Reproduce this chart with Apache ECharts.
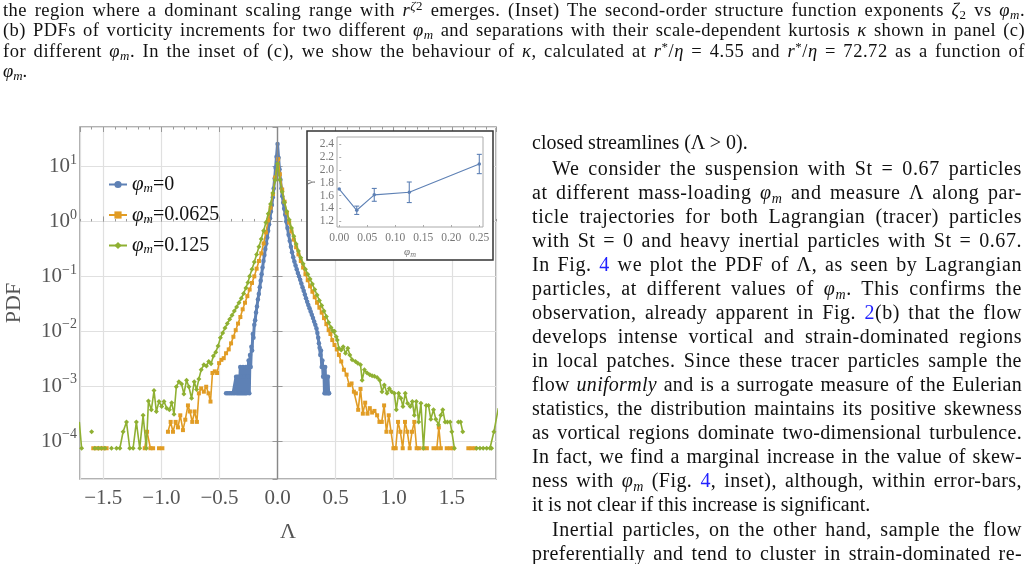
<!DOCTYPE html>
<html>
<head>
<meta charset="utf-8">
<script src="https://cdn.jsdelivr.net/npm/echarts@6/dist/echarts.min.js"></script>
<style>
body { margin: 0; background: #fff; }
#page { position: relative; width: 1030px; height: 564px; overflow: hidden; font-family: 'Liberation Serif', serif; color: #111; }
#chart { position: absolute; left: 0; top: 0; width: 1030px; height: 564px; }
.ln { position: absolute; white-space: nowrap; line-height: 1; }
.j { text-align: justify; text-align-last: justify; }
.cap { font-size: 18.5px; left: 3px; width: 1022px; }
.col { font-size: 20px; left: 532px; width: 490px; }
.ind { left: 552px; width: 470px; }
.ref { color: #2020ff; }
.s { font-size: 0.7em; font-style: italic; position: relative; top: 0.25em; }
.p { font-size: 0.7em; position: relative; top: -0.45em; }
</style>
</head>
<body>
<div id="page">
  <div id="chart"></div>

  <div class="ln cap j" style="top:1px">the region where a dominant scaling range with <i>r</i><span class="p"><i>ζ</i>2</span> emerges. (Inset) The second-order structure function exponents <i>ζ</i><span class="s" style="font-style:normal">2</span> vs <i>φ</i><span class="s">m</span>.</div>
  <div class="ln cap j" style="top:21px">(b) PDFs of vorticity increments for two different <i>φ</i><span class="s">m</span> and separations with their scale-dependent kurtosis <i>κ</i> shown in panel (c)</div>
  <div class="ln cap j" style="top:42px">for different <i>φ</i><span class="s">m</span>. In the inset of (c), we show the behaviour of <i>κ</i>, calculated at <i>r</i><span class="p">*</span>/<i>η</i> = 4.55 and <i>r</i><span class="p">*</span>/<i>η</i> = 72.72 as a function of</div>
  <div class="ln cap" style="top:62px"><i>φ</i><span class="s">m</span>.</div>

  <div class="ln col" style="top:132px">closed streamlines (Λ &gt; 0).</div>
  <div class="ln col ind j" style="top:158px">We consider the suspension with St = 0.67 particles</div>
  <div class="ln col j" style="top:182px">at different mass-loading <i>φ</i><span class="s">m</span> and measure Λ along par-</div>
  <div class="ln col j" style="top:206px">ticle trajectories for both Lagrangian (tracer) particles</div>
  <div class="ln col j" style="top:230px">with St = 0 and heavy inertial particles with St = 0.67.</div>
  <div class="ln col j" style="top:254px">In Fig. <span class="ref">4</span> we plot the PDF of Λ, as seen by Lagrangian</div>
  <div class="ln col j" style="top:278px">particles, at different values of <i>φ</i><span class="s">m</span>.  This confirms the</div>
  <div class="ln col j" style="top:302px">observation, already apparent in Fig. <span class="ref">2</span>(b) that the flow</div>
  <div class="ln col j" style="top:326px">develops intense vortical and strain-dominated regions</div>
  <div class="ln col j" style="top:350px">in local patches. Since these tracer particles sample the</div>
  <div class="ln col j" style="top:374px">flow <i>uniformly</i> and is a surrogate measure of the Eulerian</div>
  <div class="ln col j" style="top:398px">statistics, the distribution maintains its positive skewness</div>
  <div class="ln col j" style="top:422px">as vortical regions dominate two-dimensional turbulence.</div>
  <div class="ln col j" style="top:446px">In fact, we find a marginal increase in the value of skew-</div>
  <div class="ln col j" style="top:470px">ness with <i>φ</i><span class="s">m</span> (Fig. <span class="ref">4</span>, inset), although, within error-bars,</div>
  <div class="ln col" style="top:494px">it is not clear if this increase is significant.</div>
  <div class="ln col ind j" style="top:519px">Inertial particles, on the other hand, sample the flow</div>
  <div class="ln col j" style="top:543px">preferentially and tend to cluster in strain-dominated re-</div>
</div>

<script>
// values: [Λ, log10 PDF], null = empty bin
const phiLabels = ['0', '0.0625', '0.125']
const seriesColors = ['#5e81b5', '#e19c24', '#8fb032']

const pdfPhi0 = [
    [-0.443, -3.13], [-0.428, -3.13], [-0.413, -3.13], [-0.398, -3.13], [-0.383, -3.13], [-0.368, -3.13],
    [-0.357, -2.83], [-0.351, -3.13], [-0.345, -2.83], [-0.339, -3.13], [-0.333, -2.83], [-0.327, -3.13],
    [-0.321, -2.65], [-0.315, -3.13], [-0.309, -2.83], [-0.303, -3.13], [-0.297, -2.65], [-0.291, -3.13],
    [-0.285, -2.83], [-0.279, -3.13], [-0.273, -2.65], [-0.267, -3.13], [-0.261, -2.65], [-0.255, -2.83],
    [-0.249, -2.53], [-0.243, -3.13], [-0.237, -2.43], [-0.231, -2.65], [-0.225, -2.28], [-0.219, -2.35],
    [-0.213, -2.05], [-0.207, -2.12], [-0.200, -1.88], [-0.193, -1.80], [-0.185, -1.66], [-0.177, -1.55],
    [-0.169, -1.42], [-0.161, -1.32], [-0.153, -1.20], [-0.145, -1.08], [-0.137, -0.96], [-0.129, -0.84],
    [-0.121, -0.72], [-0.113, -0.61], [-0.105, -0.50], [-0.097, -0.40], [-0.089, -0.29], [-0.081, -0.17],
    [-0.073, -0.05], [-0.065, 0.06], [-0.057, 0.18], [-0.049, 0.30], [-0.041, 0.44], [-0.033, 0.60],
    [-0.025, 0.78], [-0.017, 0.98], [-0.009, 1.18], [0.0, 1.41],
    [0.009, 1.16], [0.017, 0.95], [0.025, 0.76], [0.033, 0.60], [0.041, 0.46], [0.049, 0.34],
    [0.057, 0.23], [0.066, 0.12], [0.075, 0.0], [0.085, -0.12], [0.095, -0.24], [0.105, -0.35],
    [0.115, -0.46], [0.125, -0.56], [0.135, -0.65], [0.145, -0.73], [0.155, -0.80], [0.165, -0.87],
    [0.175, -0.94], [0.185, -1.00], [0.195, -1.06], [0.205, -1.13], [0.215, -1.20], [0.225, -1.26],
    [0.235, -1.33], [0.245, -1.40], [0.255, -1.46], [0.265, -1.52], [0.275, -1.58], [0.285, -1.64],
    [0.295, -1.70], [0.305, -1.76], [0.315, -1.82], [0.325, -1.88], [0.335, -1.95], [0.343, -2.03],
    [0.350, -2.12], [0.356, -2.22], [0.362, -2.30], [0.368, -2.43], [0.374, -2.35], [0.380, -2.65],
    [0.386, -2.53], [0.392, -2.83], [0.398, -2.65], [0.404, -3.13], [0.410, -2.65], [0.416, -3.13],
    [0.422, -2.83], [0.428, -3.13], [0.434, -2.83], [0.440, -3.13], [0.444, -3.13]
]

const pdfPhi00625 = [
    [-1.586, -4.13], [-1.557, -4.13], [-1.529, -4.13], [-1.500, -4.13], [-1.471, -4.13], [-1.45, null],
    [-1.143, -4.13], [-1.123, -3.83], [-1.094, -4.13], [-1.071, -4.13], [-1.05, null],
    [-1.020, -4.13], [-0.991, -4.13], [-0.97, null],
    [-0.943, -3.83], [-0.920, -3.65], [-0.900, -3.83], [-0.877, -3.65], [-0.857, -3.75], [-0.837, -3.53],
    [-0.814, -3.80], [-0.794, -3.61], [-0.771, -3.35], [-0.754, -3.46], [-0.734, -3.65], [-0.714, -3.46],
    [-0.694, -3.65], [-0.677, -3.13], [-0.657, -3.04], [-0.634, -3.10], [-0.614, -3.01], [-0.594, -3.13],
    [-0.577, -3.28], [-0.560, -2.76], [-0.540, -2.73], [-0.520, -2.76], [-0.503, -2.58], [-0.483, -2.52],
    [-0.463, -2.49], [-0.443, -2.40], [-0.420, -2.33], [-0.400, -2.22], [-0.380, -2.10], [-0.360, -1.98],
    [-0.340, -1.86], [-0.320, -1.74], [-0.300, -1.60], [-0.280, -1.48], [-0.260, -1.36], [-0.240, -1.24],
    [-0.220, -1.12], [-0.200, -1.00], [-0.180, -0.86], [-0.160, -0.72], [-0.140, -0.58], [-0.120, -0.40],
    [-0.100, -0.20], [-0.080, 0.02], [-0.060, 0.25], [-0.040, 0.50], [-0.020, 0.80], [0.005, 1.135],
    [0.020, 0.86], [0.040, 0.58], [0.060, 0.36], [0.080, 0.16], [0.100, -0.02], [0.120, -0.18],
    [0.140, -0.33], [0.160, -0.47], [0.180, -0.60], [0.200, -0.72], [0.220, -0.84], [0.240, -0.96],
    [0.260, -1.07], [0.280, -1.18], [0.300, -1.28], [0.320, -1.38], [0.340, -1.48], [0.360, -1.57],
    [0.380, -1.66], [0.400, -1.76], [0.420, -1.87], [0.440, -1.98], [0.455, -2.05], [0.471, -2.16],
    [0.490, -2.25], [0.510, -2.33], [0.528, -2.43], [0.548, -2.55], [0.571, -2.70], [0.594, -2.79],
    [0.617, -2.98], [0.637, -2.95], [0.657, -3.10], [0.674, -3.13], [0.694, -3.43], [0.714, -3.05],
    [0.734, -3.50], [0.754, -3.30], [0.774, -3.50], [0.794, -3.40], [0.814, -3.48], [0.834, -3.45],
    [0.857, -3.53], [0.877, -3.65], [0.897, -3.65], [0.917, -3.35], [0.937, -3.83], [0.957, -3.53],
    [0.977, -3.83], [0.997, -4.13], [1.017, -4.13], [1.037, -3.65], [1.057, -3.83], [1.077, -4.13],
    [1.097, -3.65], [1.117, -3.83], [1.137, -4.13], [1.157, -3.83], [1.177, -3.65], [1.197, -4.13],
    [1.217, -4.13], [1.235, null],
    [1.256, -4.13], [1.285, -4.13], [1.31, null], [1.342, -4.13], [1.371, -4.13], [1.388, -3.75],
    [1.405, -4.13], [1.43, null], [1.456, -4.13], [1.485, -4.13], [1.513, -4.13], [1.53, null],
    [1.642, -4.13], [1.670, -4.13], [1.700, -4.13]
]

const pdfPhi0125 = [
    [-1.706, -3.65], [-1.686, -4.13], [-1.64, null], [-1.600, -3.83], [-1.59, null],
    [-1.572, -4.13], [-1.543, -4.13], [-1.515, -4.13], [-1.486, -4.13], [-1.46, null],
    [-1.429, -4.13], [-1.41, null],
    [-1.386, -4.13], [-1.357, -4.13], [-1.329, -3.83], [-1.300, -3.65], [-1.272, -4.13], [-1.243, -4.13],
    [-1.215, -3.65], [-1.186, -4.13], [-1.157, -3.53], [-1.129, -4.13], [-1.111, -3.27], [-1.086, -3.43],
    [-1.063, -3.08], [-1.043, -3.46], [-1.020, -3.28], [-0.997, -3.37], [-0.977, -3.28], [-0.954, -3.40],
    [-0.931, -3.43], [-0.911, -3.30], [-0.891, -3.51], [-0.871, -3.01], [-0.849, -2.92], [-0.826, -2.96],
    [-0.806, -3.14], [-0.783, -2.89], [-0.763, -3.01], [-0.740, -3.22], [-0.717, -2.92], [-0.697, -3.06],
    [-0.677, -2.87], [-0.657, -2.70], [-0.634, -2.61], [-0.612, -2.63], [-0.592, -2.55], [-0.572, -2.59],
    [-0.552, -2.45], [-0.532, -2.38], [-0.512, -2.27], [-0.492, -2.12], [-0.472, -2.03], [-0.452, -1.94],
    [-0.432, -1.86], [-0.412, -1.78], [-0.392, -1.71], [-0.372, -1.63], [-0.352, -1.56], [-0.332, -1.48],
    [-0.312, -1.40], [-0.292, -1.31], [-0.272, -1.21], [-0.255, -1.11], [-0.240, -1.00], [-0.220, -0.87],
    [-0.200, -0.74], [-0.180, -0.60], [-0.160, -0.46], [-0.140, -0.32], [-0.120, -0.17], [-0.100, -0.02],
    [-0.080, 0.14], [-0.060, 0.32], [-0.040, 0.52], [-0.020, 0.75], [0.0, 1.05],
    [0.020, 0.76], [0.040, 0.54], [0.060, 0.35], [0.080, 0.18], [0.100, 0.03], [0.120, -0.12],
    [0.140, -0.27], [0.160, -0.41], [0.180, -0.54], [0.200, -0.66], [0.220, -0.77], [0.240, -0.87],
    [0.260, -0.96], [0.280, -1.05], [0.300, -1.14], [0.320, -1.24], [0.340, -1.34], [0.360, -1.44],
    [0.380, -1.53], [0.400, -1.63], [0.420, -1.73], [0.440, -1.84], [0.460, -1.93], [0.475, -1.99],
    [0.490, -2.00], [0.505, -2.10], [0.514, -2.16], [0.528, -2.31], [0.548, -2.34], [0.565, -2.28],
    [0.585, -2.40], [0.605, -2.31], [0.622, -2.43], [0.642, -2.52], [0.671, -2.55], [0.691, -2.58],
    [0.714, -2.61], [0.728, -2.89], [0.748, -2.70], [0.771, -2.76], [0.794, -2.79], [0.814, -2.81],
    [0.834, -2.82], [0.857, -2.84], [0.879, -2.89], [0.899, -3.10], [0.919, -2.98], [0.942, -3.13],
    [0.962, -3.04], [0.982, -3.10], [1.005, -3.13], [1.022, -3.43], [1.042, -3.13], [1.062, -3.22],
    [1.079, -3.37], [1.099, -3.13], [1.119, -3.31], [1.142, -3.37], [1.160, -3.28], [1.177, -3.53],
    [1.194, -3.28], [1.214, -3.65], [1.234, -3.31], [1.256, -4.13], [1.279, -3.35], [1.299, -3.35],
    [1.319, -3.60], [1.342, -3.43], [1.362, -3.60], [1.385, -3.70], [1.405, -3.53], [1.422, -3.43],
    [1.442, -3.65], [1.462, -3.65], [1.485, -3.65], [1.500, -3.83], [1.522, -4.13], [1.54, null],
    [1.556, -3.65], [1.575, -3.65], [1.594, -3.83], [1.62, null],
    [1.713, -4.13], [1.742, -4.13], [1.770, -4.13], [1.800, -4.13], [1.828, -4.13], [1.842, -4.13],
    [1.862, -3.83], [1.900, -3.40]
]

// inset: gamma vs phi_m with error bars
const insetPhi = [0, 0.03125, 0.0625, 0.125, 0.25]
const insetGamma = [1.70, 1.37, 1.61, 1.65, 2.09]
const insetErr = [0, 0.065, 0.10, 0.16, 0.15]

const serif = 'Liberation Serif'
const frameColor = '#999'
const labelColor = '#555'

// widen the narrow serif a little so justified lines don't get huge word gaps
document.querySelectorAll('.j').forEach(el => {
    const target = el.clientWidth
    const probe = el.cloneNode(true)
    probe.style.cssText = 'position:absolute;visibility:hidden;width:auto;text-align:left;text-align-last:auto;top:0;left:0'
    el.parentNode.appendChild(probe)
    const natural = probe.getBoundingClientRect().width
    probe.remove()
    const slack = target - natural
    if (slack > 0) {
        el.style.letterSpacing = Math.min(1.2, slack * 0.55 / el.textContent.length) + 'px'
    }
})

const toData = pts => pts.map(p => [p[0], p[1] === null ? '-' : p[1]])
const fmtX = v => (v < 0 ? '\u2212' : '') + Math.abs(v).toFixed(1)
const fmtDecade = v => {
    const n = Math.round(v)
    return '{b|10}{e|' + (n < 0 ? '\u2212' + (-n) : n) + '}'
}

const mainX = { min: -1.7, max: 1.88 }
const mainY = { min: -4.69, max: 1.72 }

const chart = echarts.init(document.getElementById('chart'), null, { renderer: 'canvas' })

const pdfSets = [pdfPhi0, pdfPhi00625, pdfPhi0125]
const symbols = ['circle', 'rect', 'diamond']
const symbolSizes = [4.5, 4, 5]
const lineWidths = [3, 1.6, 1.6]

const mainSeries = pdfSets.map((pts, i) => ({
    name: phiLabels[i],
    type: 'line',
    xAxisIndex: 0,
    yAxisIndex: 0,
    data: toData(pts),
    symbol: symbols[i],
    symbolSize: symbolSizes[i],
    showSymbol: true,
    connectNulls: false,
    lineStyle: { color: seriesColors[i], width: lineWidths[i] },
    itemStyle: { color: seriesColors[i] },
    z: 3 + i
}))

// vertical axis line at Λ = 0
mainSeries[0].markLine = {
    silent: true,
    symbol: 'none',
    label: { show: false },
    lineStyle: { color: '#888', width: 1.4, type: 'solid' },
    data: [{ xAxis: 0 }]
}

const errData = insetPhi
    .map((p, i) => [p, insetGamma[i] - insetErr[i], insetGamma[i] + insetErr[i], insetErr[i]])
    .filter(d => d[3] > 0)

const option = {
    animation: false,
    backgroundColor: 'transparent',
    grid: [
        { left: 80, top: 127, width: 416, height: 352, show: true, borderColor: frameColor, borderWidth: 1.6, backgroundColor: 'transparent' },
        { left: 337, top: 137, width: 146, height: 90, show: true, borderColor: '#aaa', borderWidth: 1, backgroundColor: '#fff', z: 55 }
    ],
    legend: {
        orient: 'vertical',
        left: 103,
        top: 169,
        itemWidth: 18,
        itemHeight: 9,
        itemGap: 9,
        data: phiLabels,
        formatter: n => '{i|φ}{m|m}{t|=' + n + '}',
        textStyle: {
            color: '#111',
            fontFamily: serif,
            fontSize: 20,
            rich: {
                i: { fontFamily: serif, fontStyle: 'italic', fontSize: 21, color: '#111' },
                m: { fontFamily: serif, fontStyle: 'italic', fontSize: 13, color: '#111', padding: [9, 0, 0, 0] },
                t: { fontFamily: serif, fontSize: 20, color: '#111' }
            }
        }
    },
    graphic: [
        {
            type: 'rect',
            z: 50,
            shape: { x: 307, y: 131, width: 186, height: 129 },
            style: { fill: '#fff', stroke: '#333', lineWidth: 1.5 }
        }
    ],
    xAxis: [
        {
            gridIndex: 0, type: 'value', position: 'bottom', ...mainX, splitNumber: 7,
            axisLine: { show: false },
            axisTick: { inside: true, length: 5, lineStyle: { color: frameColor } },
            axisLabel: { showMinLabel: false, showMaxLabel: false, formatter: fmtX, fontFamily: serif, fontSize: 21, color: labelColor, margin: 9 },
            splitLine: { show: true, lineStyle: { color: '#e0e0e0', width: 1.2 } },
            name: 'Λ', nameLocation: 'middle', nameGap: 42,
            nameTextStyle: { fontFamily: serif, fontSize: 22, color: labelColor }
        },
        {
            gridIndex: 0, type: 'value', position: 'bottom', ...mainX, interval: 0.1,
            axisLine: { show: false },
            axisTick: { inside: true, length: 2.5, lineStyle: { color: frameColor } },
            axisLabel: { show: false }, splitLine: { show: false }
        },
        {
            gridIndex: 0, type: 'value', position: 'top', ...mainX, interval: 0.1,
            axisLine: { show: false },
            axisTick: { inside: true, length: 2.5, lineStyle: { color: frameColor } },
            axisLabel: { show: false }, splitLine: { show: false }
        },
        {
            gridIndex: 0, type: 'value', position: 'top', ...mainX, splitNumber: 7,
            axisLine: { show: false },
            axisTick: { inside: true, length: 5, lineStyle: { color: frameColor } },
            axisLabel: { show: false }, splitLine: { show: false }
        },
        {
            gridIndex: 1, type: 'value', min: -0.004, max: 0.2566, splitNumber: 5, z: 56,
            axisLine: { show: false },
            axisTick: { inside: true, length: 2, lineStyle: { color: '#aaa' } },
            axisLabel: { showMinLabel: false, showMaxLabel: false, formatter: v => v.toFixed(2), fontFamily: serif, fontSize: 11.5, color: '#777', margin: 5 },
            splitLine: { show: false },
            name: '{i|φ}{m|m}', nameLocation: 'middle', nameGap: 19,
            nameTextStyle: {
                rich: {
                    i: { fontFamily: serif, fontStyle: 'italic', fontSize: 11, color: '#777' },
                    m: { fontFamily: serif, fontStyle: 'italic', fontSize: 8, color: '#777', padding: [5, 0, 0, 0] }
                }
            }
        }
    ],
    yAxis: [
        {
            gridIndex: 0, type: 'value', position: 'left', ...mainY, splitNumber: 6,
            axisLine: { show: false },
            axisTick: { inside: true, length: 5, lineStyle: { color: frameColor } },
            axisLabel: {
                showMinLabel: false, showMaxLabel: false, formatter: fmtDecade, margin: 3,
                rich: {
                    b: { fontFamily: serif, fontSize: 21, color: labelColor },
                    e: { fontFamily: serif, fontSize: 14, color: labelColor, padding: [0, 0, 13, 0] }
                }
            },
            splitLine: { show: true, lineStyle: { color: '#e0e0e0', width: 1.2 } },
            name: 'PDF', nameLocation: 'middle', nameGap: 55,
            nameTextStyle: { fontFamily: serif, fontSize: 22, color: labelColor }
        },
        {
            gridIndex: 0, type: 'value', position: 'right', ...mainY, splitNumber: 6,
            axisLine: { show: false },
            axisTick: { inside: true, length: 5, lineStyle: { color: frameColor } },
            axisLabel: { show: false }, splitLine: { show: false }
        },
        {
            gridIndex: 1, type: 'value', min: 1.11, max: 2.51, splitNumber: 7, z: 56,
            axisLine: { show: false },
            axisTick: { inside: true, length: 2, lineStyle: { color: '#aaa' } },
            axisLabel: { showMinLabel: false, showMaxLabel: false, formatter: v => v.toFixed(1), fontFamily: serif, fontSize: 11.5, color: '#777', margin: 3 },
            splitLine: { show: false },
            name: 'γ', nameLocation: 'middle', nameGap: 21,
            nameTextStyle: { fontFamily: serif, fontSize: 11, color: '#777' }
        }
    ],
    series: [
        ...mainSeries,
        {
            name: 'gamma',
            type: 'line',
            xAxisIndex: 4,
            yAxisIndex: 2,
            data: insetPhi.map((p, i) => [p, insetGamma[i]]),
            symbol: 'circle',
            symbolSize: 3.5,
            lineStyle: { color: seriesColors[0], width: 1.1 },
            itemStyle: { color: seriesColors[0] },
            z: 60
        },
        {
            name: 'gammaErr',
            type: 'custom',
            xAxisIndex: 4,
            yAxisIndex: 2,
            data: errData,
            encode: { x: 0, y: [1, 2] },
            z: 60,
            renderItem(params, api) {
                const x = api.value(0)
                const lo = api.coord([x, api.value(1)])
                const hi = api.coord([x, api.value(2)])
                const cap = 2.5
                const style = { stroke: seriesColors[0], lineWidth: 1.1 }
                return {
                    type: 'group',
                    children: [
                        { type: 'line', shape: { x1: lo[0], y1: lo[1], x2: hi[0], y2: hi[1] }, style },
                        { type: 'line', shape: { x1: hi[0] - cap, y1: hi[1], x2: hi[0] + cap, y2: hi[1] }, style },
                        { type: 'line', shape: { x1: lo[0] - cap, y1: lo[1], x2: lo[0] + cap, y2: lo[1] }, style }
                    ]
                }
            }
        }
    ]
}

chart.setOption(option)
</script>
</body>
</html>
